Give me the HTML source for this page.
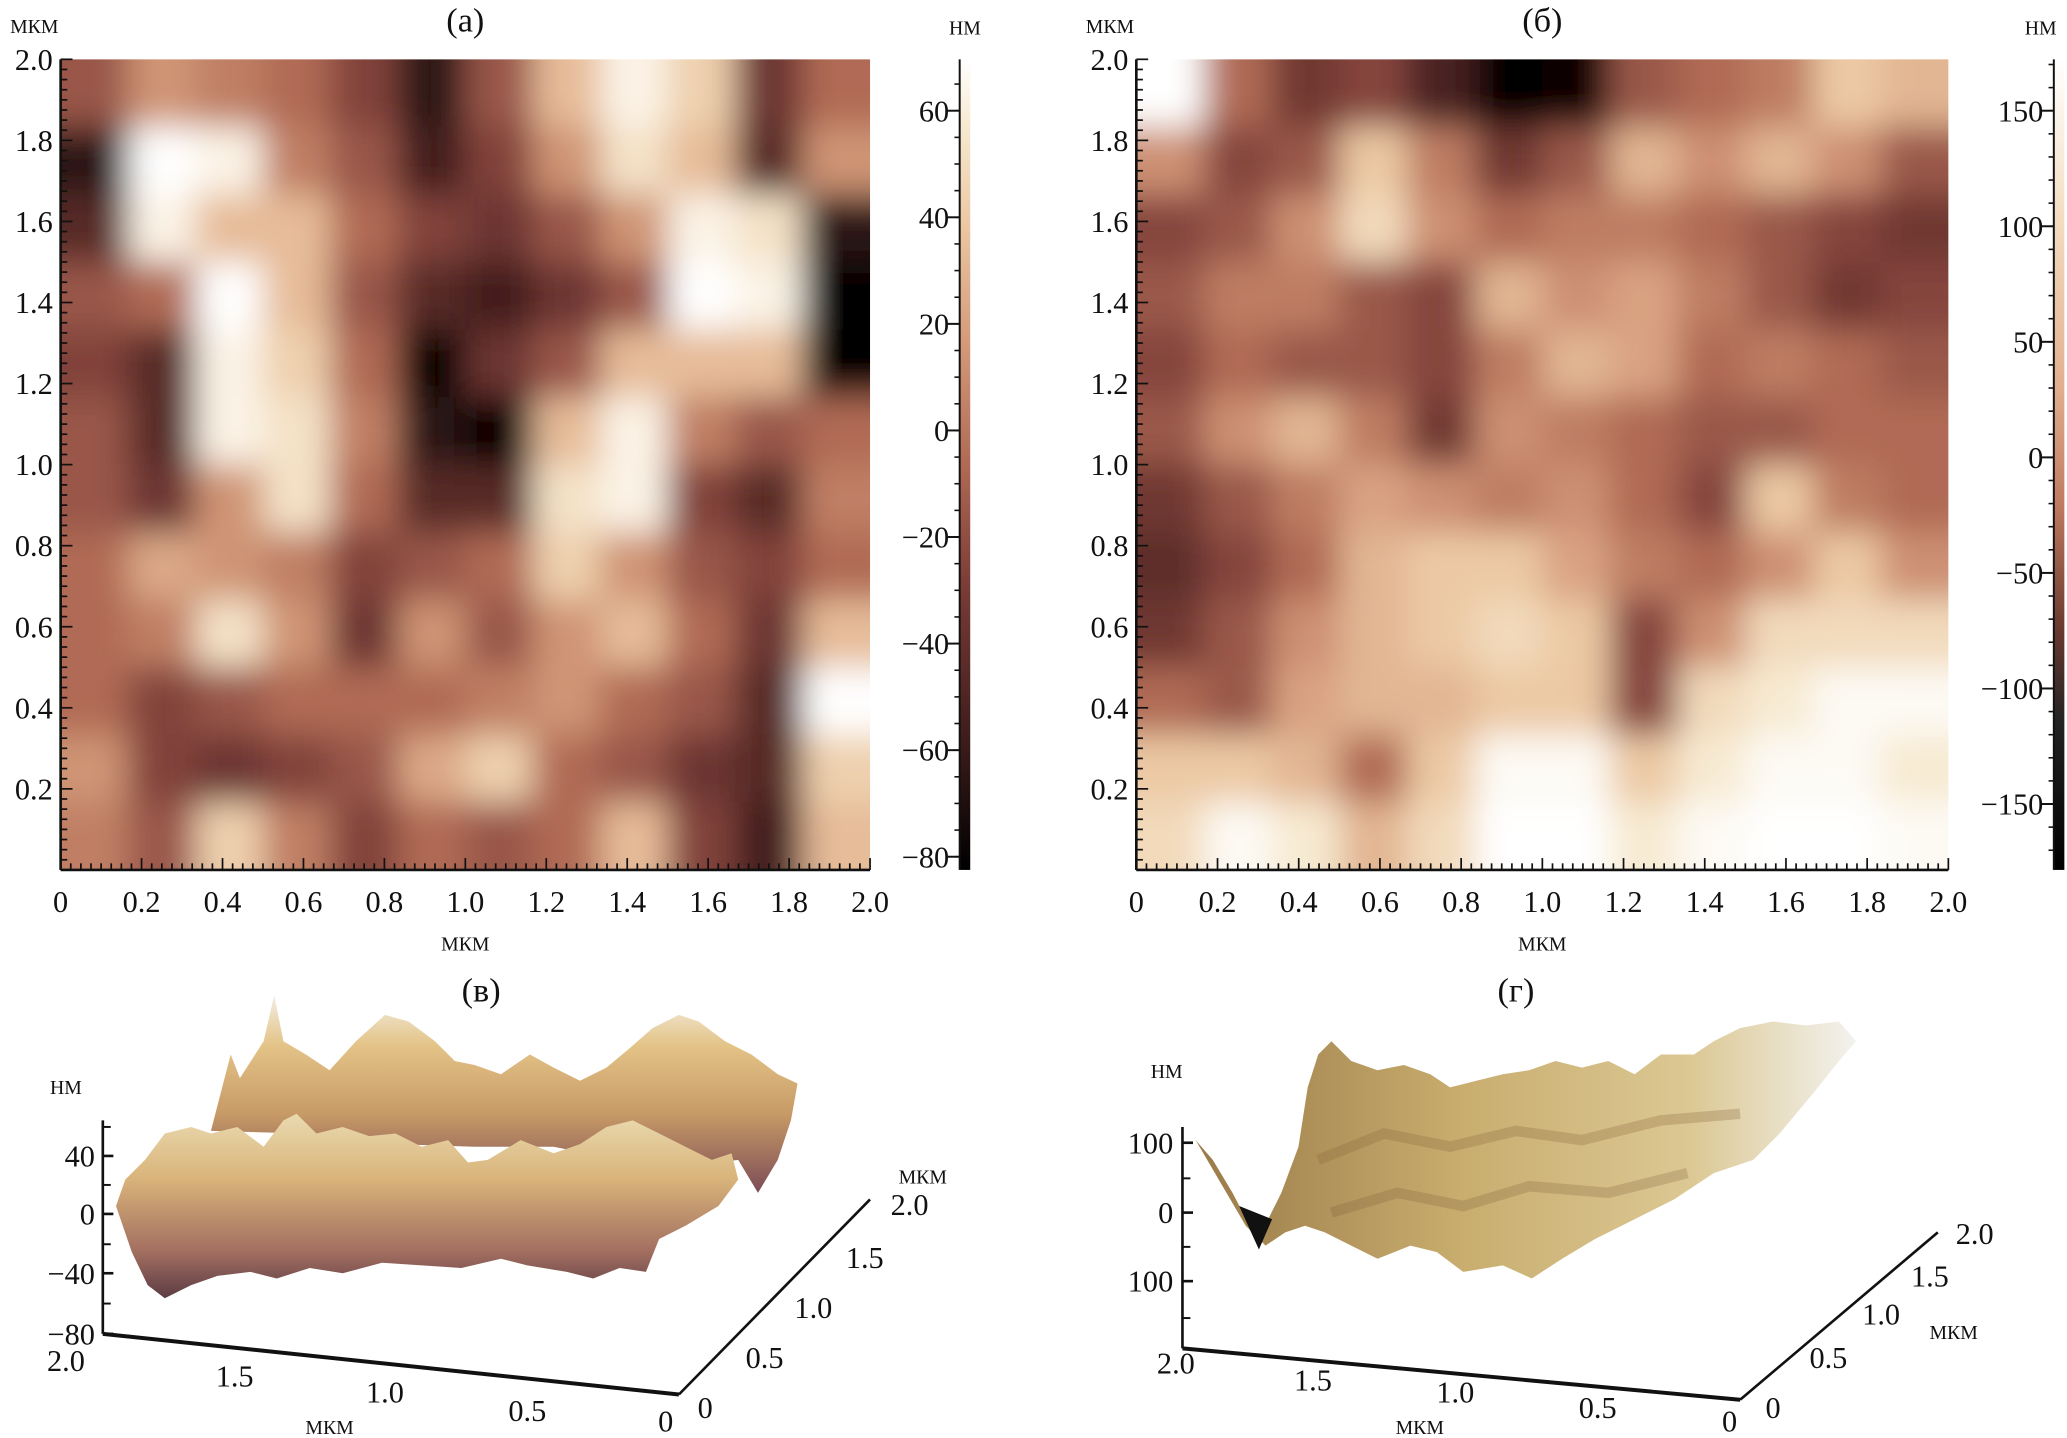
<!DOCTYPE html>
<html><head><meta charset="utf-8">
<style>
html,body{margin:0;padding:0;background:#fff;}
svg{display:block;}
text{font-family:"Liberation Serif","DejaVu Serif",serif;fill:#111;}
.t{font-size:23px;}
.u{font-size:15px;}
.h{font-size:26px;}
</style></head>
<body>
<svg id="fig" width="2067" height="1438" viewBox="0 0 1568 1091" preserveAspectRatio="none" xmlns="http://www.w3.org/2000/svg">
<defs>
<filter id="blur" x="-0.1" y="-0.1" width="1.2" height="1.2"><feGaussianBlur stdDeviation="13"/></filter>
<clipPath id="clipA"><rect x="46" y="45" width="614" height="615"/></clipPath>
<clipPath id="clipB"><rect x="862" y="45" width="616" height="615"/></clipPath>
<linearGradient id="cbar" x1="0" y1="1" x2="0" y2="0">
<stop offset="0" stop-color="#000"/><stop offset="0.15" stop-color="#3a1a1a"/><stop offset="0.35" stop-color="#7a3c36"/><stop offset="0.5" stop-color="#b06a55"/><stop offset="0.65" stop-color="#d49a7a"/><stop offset="0.8" stop-color="#ecc9a4"/><stop offset="0.92" stop-color="#f7ead2"/><stop offset="1" stop-color="#fff"/>
</linearGradient>
<linearGradient id="cbarB" x1="0" y1="1" x2="0" y2="0">
<stop offset="0" stop-color="#000"/><stop offset="0.18" stop-color="#222"/><stop offset="0.3" stop-color="#6a3a30"/><stop offset="0.45" stop-color="#c07a60"/><stop offset="0.6" stop-color="#e2b090"/><stop offset="0.8" stop-color="#f3dcc0"/><stop offset="1" stop-color="#fff"/>
</linearGradient>
<linearGradient id="surfV" x1="0" y1="0" x2="0" y2="1">
<stop offset="0" stop-color="#f2eee4"/><stop offset="0.25" stop-color="#e4c488"/><stop offset="0.6" stop-color="#c79a66"/><stop offset="1" stop-color="#7c4c56"/>
</linearGradient>
<linearGradient id="surfV2" x1="0" y1="0" x2="0" y2="1">
<stop offset="0" stop-color="#eadab0"/><stop offset="0.35" stop-color="#d9b47a"/><stop offset="0.75" stop-color="#a26e60"/><stop offset="1" stop-color="#5c3c44"/>
</linearGradient>
<linearGradient id="surfG" x1="0" y1="0" x2="1" y2="0">
<stop offset="0" stop-color="#9a7a48"/><stop offset="0.4" stop-color="#c8ad6e"/><stop offset="0.75" stop-color="#dcc894"/><stop offset="1" stop-color="#f2f2ee"/>
</linearGradient>
</defs>
<g id="layer"></g>
</svg>
<script>
// ---- data ----
const heightA = [
[0.45,0.6,0.55,0.5,0.4,0.2,0.45,0.7,0.85,0.75,0.35,0.5],
[0.2,0.9,0.85,0.55,0.45,0.25,0.4,0.6,0.8,0.7,0.3,0.6],
[0.3,0.85,0.7,0.7,0.5,0.4,0.35,0.45,0.6,0.85,0.8,0.2],
[0.45,0.5,0.9,0.7,0.45,0.3,0.25,0.35,0.45,0.95,0.85,0.1],
[0.4,0.3,0.85,0.75,0.5,0.1,0.35,0.45,0.7,0.7,0.7,0.1],
[0.45,0.3,0.85,0.8,0.55,0.2,0.1,0.7,0.85,0.55,0.45,0.5],
[0.45,0.35,0.6,0.8,0.5,0.3,0.3,0.8,0.85,0.4,0.3,0.55],
[0.5,0.65,0.6,0.55,0.4,0.45,0.5,0.75,0.6,0.45,0.4,0.5],
[0.5,0.55,0.8,0.6,0.35,0.6,0.45,0.6,0.7,0.5,0.35,0.7],
[0.5,0.4,0.45,0.5,0.5,0.5,0.55,0.6,0.5,0.45,0.3,0.9],
[0.6,0.4,0.35,0.4,0.45,0.65,0.75,0.5,0.45,0.35,0.3,0.75],
[0.55,0.45,0.75,0.55,0.4,0.5,0.45,0.5,0.7,0.4,0.25,0.7]];
const heightB = [
[0.95,0.5,0.35,0.4,0.25,0.0,0.1,0.45,0.5,0.55,0.75,0.7],
[0.6,0.4,0.45,0.75,0.55,0.35,0.45,0.7,0.6,0.7,0.6,0.45],
[0.4,0.45,0.6,0.8,0.6,0.5,0.55,0.55,0.5,0.45,0.4,0.35],
[0.45,0.55,0.55,0.45,0.4,0.7,0.6,0.65,0.55,0.45,0.35,0.4],
[0.4,0.5,0.45,0.45,0.4,0.55,0.7,0.65,0.5,0.55,0.5,0.45],
[0.45,0.6,0.7,0.55,0.35,0.6,0.55,0.5,0.45,0.45,0.5,0.5],
[0.35,0.45,0.55,0.65,0.6,0.55,0.6,0.5,0.4,0.75,0.55,0.5],
[0.3,0.4,0.5,0.7,0.75,0.75,0.65,0.55,0.5,0.6,0.75,0.6],
[0.35,0.45,0.6,0.7,0.75,0.8,0.75,0.4,0.6,0.8,0.8,0.8],
[0.5,0.45,0.65,0.7,0.7,0.75,0.75,0.4,0.8,0.85,0.9,0.9],
[0.75,0.75,0.7,0.5,0.75,0.9,0.9,0.75,0.85,0.9,0.9,0.85],
[0.8,0.9,0.85,0.7,0.8,0.95,0.95,0.85,0.9,0.95,0.95,0.9]];
const xTicks = ["0","0.2","0.4","0.6","0.8","1.0","1.2","1.4","1.6","1.8","2.0"];
const yTicks = ["0.2","0.4","0.6","0.8","1.0","1.2","1.4","1.6","1.8","2.0"];
const cbarTicksA = [60,40,20,0,-20,-40,-60,-80];
const cbarTicksB = [150,100,50,0,-50,-100,-150];

const NS="http://www.w3.org/2000/svg";
const root=document.getElementById('layer');
function mk(tag,attrs,parent){const e=document.createElementNS(NS,tag);for(const k in attrs)e.setAttribute(k,attrs[k]);(parent||root).appendChild(e);return e;}
function txt(x,y,s,cls,anchor,parent){const e=mk('text',{x:x,y:y,class:cls,'text-anchor':anchor||'middle'},parent);e.textContent=s;return e;}

const stops=[[0,[0,0,0]],[0.15,[58,26,26]],[0.35,[122,60,54]],[0.5,[176,106,85]],[0.65,[212,154,122]],[0.8,[236,201,164]],[0.92,[247,234,210]],[1,[255,255,255]]];
function cmap(v){v=Math.max(0,Math.min(1,v));for(let i=1;i<stops.length;i++){if(v<=stops[i][0]){const a=stops[i-1],b=stops[i];const t=(v-a[0])/(b[0]-a[0]);const c=a[1].map((q,j)=>Math.round(q+(b[1][j]-q)*t));return `rgb(${c[0]},${c[1]},${c[2]})`;}}return '#fff';}

function panel(P){
  const g=mk('g',{});
  
  
  const sx=v=>P.x0+(v/2)*(P.x1-P.x0);
  const sy=v=>P.y1-(v/2)*(P.y1-P.y0);
  const hg=mk('g',{'clip-path':`url(#${P.clip})`},g);
  const hb=mk('g',{filter:'url(#blur)'},hg);
  
  
  const n=P.data.length, m=P.data[0].length;
  for(let r=-2;r<n+2;r++)for(let c=-2;c<m+2;c++){
    const rr=Math.max(0,Math.min(n-1,r)), cc=Math.max(0,Math.min(m-1,c));
    const x=sx(c*2/m), y=sy(2-r*2/n);
    const v=P.data[rr][cc];
    const cell=mk('rect',{x:x,y:y,width:sx((c+1)*2/m)-x+0.5,height:sy(2-(r+1)*2/n)-y+0.5,fill:cmap(0.5+(v-0.5)*P.contrast)},hb);
    
    
  }
  mk('line',{x1:P.x0,y1:P.y0,x2:P.x0,y2:P.y1,stroke:'#111','stroke-width':2},g);
  mk('line',{x1:P.x0,y1:P.y1,x2:P.x1,y2:P.y1,stroke:'#111','stroke-width':2},g);
  for(let i=0;i<=80;i++){const v=i*0.025;const L=i%8===0?9:5;
    mk('line',{x1:sx(v),y1:P.y1,x2:sx(v),y2:P.y1-L,stroke:'#111','stroke-width':1.3},g);
    mk('line',{x1:P.x0,y1:sy(v),x2:P.x0+L,y2:sy(v),stroke:'#111','stroke-width':1.3},g);}
  xTicks.forEach(s=>{const t=txt(sx(parseFloat(s)),692,s,'t','middle',g);});
  yTicks.forEach(s=>{const t=txt(P.x0-6,sy(parseFloat(s))+8,s,'t','end',g);});
  const xl=txt((P.x0+P.x1)/2,721,'МКМ','u','middle',g);
  const yl=txt(P.x0-20,25,'МКМ','u','middle',g);
  const tt=txt((P.x0+P.x1)/2,24,P.title,'h','middle',g);
  const cb=mk('rect',{x:P.cbx,y:45,width:8,height:615,fill:`url(#${P.grad})`},g);
  
  mk('line',{x1:P.cbx,y1:45,x2:P.cbx,y2:660,stroke:'#111','stroke-width':1.5},g);
  const cy=v=>P.cy0+(P.cv0-v)*(P.cy1-P.cy0)/(P.cv0-P.cv1);
  for(let v=P.cv0+20;v>=P.cv1-20;v-=P.minor){const y=cy(v);if(y<46||y>659)continue;mk('line',{x1:P.cbx-4,y1:y,x2:P.cbx,y2:y,stroke:'#111','stroke-width':1.2},g);}
  P.ticks.forEach(v=>{const y=cy(v);mk('line',{x1:P.cbx-9,y1:y,x2:P.cbx,y2:y,stroke:'#111','stroke-width':1.5},g);
    const t=txt(P.cbx-8,y+8,v<0?'\u2212'+(-v):String(v),'t','end',g);});
  const cu=txt(P.unitX,26,'НМ','u','middle',g);
}
panel({name:'panel-a',data:heightA,clip:'clipA',x0:46,x1:660,y0:45,y1:660,cbx:728,unitX:732,grad:'cbar',title:'(а)',ticks:cbarTicksA,cv0:60,cv1:-80,cy0:84,cy1:650,minor:5,contrast:1.3});
panel({name:'panel-b',data:heightB,clip:'clipB',x0:862,x1:1478,y0:45,y1:660,cbx:1558,unitX:1548,grad:'cbarB',title:'(б)',ticks:cbarTicksB,cv0:150,cv1:-150,cy0:84,cy1:610,minor:10,contrast:1.2});

// ---- 3D panels (illustrative surfaces) ----
function g3(name){const g=mk('g',{});return g;}
const gv=g3('panel-v-3d');
txt(365,760,'(в)','h','middle',gv);
let p=mk('path',{d:'M160 858 L175 800 L182 818 L200 790 L208 755 L215 790 L232 800 L250 812 L270 790 L292 770 L310 775 L330 790 L345 805 L360 808 L380 815 L402 800 L420 810 L440 820 L460 810 L478 795 L495 780 L515 770 L530 775 L550 790 L570 800 L590 815 L605 822 L600 850 L590 880 L575 905 L560 880 L520 885 L470 880 L420 870 L360 870 L300 868 L230 860 Z',fill:'url(#surfV)'},gv);

p=mk('path',{d:'M88 915 L95 895 L110 880 L125 860 L145 855 L160 860 L180 855 L200 870 L215 850 L225 845 L240 860 L260 855 L280 862 L300 860 L320 870 L340 865 L355 882 L370 880 L395 865 L420 875 L440 868 L460 855 L480 850 L500 860 L520 870 L540 880 L555 875 L560 895 L545 915 L520 930 L500 940 L490 965 L470 962 L450 970 L430 965 L400 960 L380 955 L350 962 L320 960 L290 958 L260 966 L235 962 L210 970 L190 965 L165 968 L145 975 L125 985 L112 975 L100 950 Z',fill:'url(#surfV2)'},gv);

mk('line',{x1:78,y1:850,x2:78,y2:1012,stroke:'#111','stroke-width':2},gv);
[[40,877],[0,921],[-40,966],[-80,1012]].forEach(a=>{mk('line',{x1:78,y1:a[1],x2:86,y2:a[1],stroke:'#111','stroke-width':2},gv);const t=txt(72,a[1]+8,a[0]<0?'\u2212'+(-a[0]):String(a[0]),'t','end',gv);});
[855,899,944,989].forEach(y=>mk('line',{x1:78,y1:y,x2:84,y2:y,stroke:'#111','stroke-width':1.5},gv));
txt(50,830,'НМ','u','middle',gv);
mk('line',{x1:78,y1:1012,x2:515,y2:1058,stroke:'#111','stroke-width':3},gv);
mk('line',{x1:515,y1:1058,x2:660,y2:910,stroke:'#111','stroke-width':2},gv);
[['2.0',50,1040],['1.5',178,1052],['1.0',292,1064],['0.5',400,1078],['0',505,1086]].forEach(a=>txt(a[1],a[2],a[0],'t','middle',gv));
[['0',535,1076],['0.5',580,1038],['1.0',617,1000],['1.5',656,962],['2.0',690,922]].forEach(a=>txt(a[1],a[2],a[0],'t','middle',gv));
txt(700,898,'МКМ','u','middle',gv);txt(250,1088,'МКМ','u','middle',gv);

const gg=g3('panel-g-3d');
txt(1150,760,'(г)','h','middle',gg);
p=mk('path',{d:'M907 865 L920 880 L935 905 L948 930 L955 945 L962 925 L972 905 L985 870 L992 825 L1000 800 L1010 790 L1025 805 L1045 812 L1065 808 L1085 815 L1100 825 L1120 820 L1140 815 L1160 812 L1180 805 L1200 810 L1220 805 L1240 815 L1260 800 L1285 800 L1300 790 L1320 780 L1345 775 L1370 778 L1395 775 L1408 790 L1395 805 L1375 830 L1350 860 L1330 880 L1300 890 L1270 910 L1240 925 L1210 940 L1185 955 L1162 970 L1140 960 L1110 965 L1090 950 L1070 945 L1045 955 L1025 945 L1005 935 L990 930 L975 935 L960 945 L945 930 Z',fill:'url(#surfG)'},gg);

mk('path',{d:'M940 915 L955 948 L965 925 Z',fill:'#111'},gg);
mk('path',{d:'M1000 880 L1050 860 L1100 870 L1150 858 L1200 865 L1260 850 L1320 845',stroke:'#8a6a40','stroke-width':8,fill:'none',opacity:0.3},gg);
mk('path',{d:'M1010 920 L1060 905 L1110 915 L1160 900 L1220 905 L1280 890',stroke:'#7a5a38','stroke-width':8,fill:'none',opacity:0.25},gg);
mk('line',{x1:897,y1:855,x2:897,y2:1023,stroke:'#111','stroke-width':2},gg);
[[100,867],[0,920],[100,972]].forEach(a=>{mk('line',{x1:897,y1:a[1],x2:905,y2:a[1],stroke:'#111','stroke-width':2},gg);const t=txt(890,a[1]+8,String(a[0]),'t','end',gg);});
[894,946,1000].forEach(y=>mk('line',{x1:897,y1:y,x2:903,y2:y,stroke:'#111','stroke-width':1.5},gg));
txt(885,818,'НМ','u','middle',gg);
mk('line',{x1:897,y1:1023,x2:1320,y2:1062,stroke:'#111','stroke-width':3},gg);
mk('line',{x1:1320,y1:1062,x2:1470,y2:935,stroke:'#111','stroke-width':2},gg);
[['2.0',892,1042],['1.5',996,1055],['1.0',1104,1064],['0.5',1212,1076],['0',1312,1086]].forEach(a=>txt(a[1],a[2],a[0],'t','middle',gg));
[['0',1345,1076],['0.5',1387,1038],['1.0',1427,1005],['1.5',1464,976],['2.0',1498,944]].forEach(a=>txt(a[1],a[2],a[0],'t','middle',gg));
txt(1482,1016,'МКМ','u','middle',gg);txt(1077,1088,'МКМ','u','middle',gg);
</script>
</body></html>
